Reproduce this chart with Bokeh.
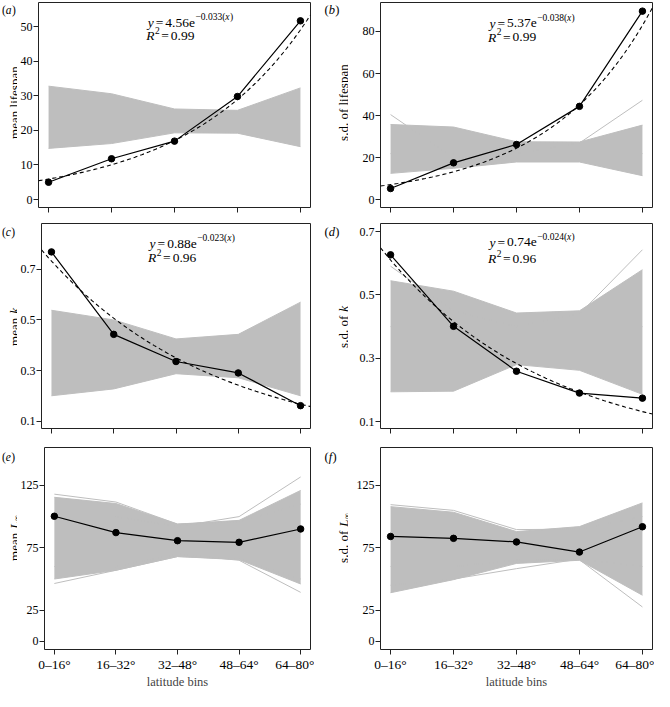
import math
import numpy as np
from bokeh.plotting import figure
from bokeh.layouts import column, row
from bokeh.models import Range1d, FixedTicker, Label
from bokeh.core.properties import value
from bokeh.embed import file_html
from bokeh.resources import INLINE

# ------------------------------------------------------------------ data
bins = ["0–16°", "16–32°", "32–48°", "48–64°", "64–80°"]
bin_pos = [1, 2, 3, 4, 5]
lat_mid = [8, 24, 40, 56, 72]

mean_lifespan = [5.0, 11.8, 16.9, 29.8, 51.7]
sd_lifespan = [5.4, 17.6, 26.3, 44.4, 89.6]
mean_k = [0.768, 0.443, 0.336, 0.291, 0.162]
sd_k = [0.627, 0.401, 0.259, 0.190, 0.174]
mean_linf = [100.3, 87.2, 80.7, 79.4, 90.1]
sd_linf = [84.1, 82.6, 79.7, 71.6, 91.9]

# null-model (randomised) lines: envelope of the dense grey bundle + stray lines
null_hi_a = [32.8, 30.6, 26.2, 25.8, 32.3]
null_lo_a = [14.8, 16.2, 19.3, 19.2, 15.3]
null_extra_a = []
null_hi_b = [35.8, 34.6, 27.6, 27.5, 35.5]
null_lo_b = [12.6, 15.0, 18.0, 18.0, 11.5]
null_extra_b = [[40.5, 20.0, 22.0, 22.0, 22.0], [22.0, 22.0, 22.0, 27.0, 47.3]]
null_hi_c = [0.538, 0.500, 0.425, 0.443, 0.570]
null_lo_c = [0.201, 0.228, 0.288, 0.272, 0.201]
null_extra_c = []
null_hi_d = [0.545, 0.512, 0.443, 0.450, 0.580]
null_lo_d = [0.194, 0.196, 0.280, 0.262, 0.186]
null_extra_d = [[0.591, 0.45, 0.40, 0.40, 0.40], [0.40, 0.40, 0.40, 0.44, 0.643]]
null_hi_e = [115.5, 110.5, 94.0, 97.0, 121.0]
null_lo_e = [50.0, 57.0, 68.0, 65.5, 46.0]
null_extra_e = [[118.0, 111.7, 94.0, 96.0, 110.0], [100.0, 100.0, 92.0, 100.0, 131.8],
                [46.4, 57.0, 68.0, 66.0, 50.0], [60.0, 60.0, 70.0, 65.0, 39.3]]
null_hi_f = [108.0, 103.5, 88.0, 92.0, 111.0]
null_lo_f = [39.0, 49.5, 62.5, 65.0, 37.0]
null_extra_f = [[109.6, 105.0, 89.6, 90.0, 100.0], [45.0, 50.0, 58.3, 66.0, 60.0],
                [60.0, 60.0, 65.0, 65.4, 27.6]]

# exponential fits (panels a-d), as printed
fit_amp = [4.56, 5.37, 0.88, 0.74]
fit_rate = [0.033, 0.038, -0.023, -0.024]
fit_amp_text = ["4.56e", "5.37e", "0.88e", "0.74e"]
fit_exp_text = ["−0.033(", "−0.038(", "−0.023(", "−0.024("]
fit_r2_text = ["0.99", "0.99", "0.96", "0.96"]

y_ticks_a = [0, 10, 20, 30, 40, 50]
y_ticks_b = [0, 20, 40, 60, 80]
y_ticks_k = [0.1, 0.3, 0.5, 0.7]
y_ticks_l = [0, 25, 75, 125]

# ------------------------------------------------------------------ style
FONT = "Liberation Serif"
GRAY = "#BEBEBE"
X_LO, X_HI = 0.84, 5.16

# layout (pixels): strips hold y-labels and panel letters
STRIP_L, STRIP_R = 17, 34
COLS = [(21, 272, 4), (32, 272, 2)]               # left border, frame, right border
ROWS = [(2, 205, 7), (9, 205, 7), (12, 205, 39)]  # top border, frame, bottom border

EM_REG = {'.': 0.25, ' ': 0.25, '=': 0.564, '−': 0.564, '(': 0.333, ')': 0.333,
          'e': 0.444, 'm': 0.778, 'a': 0.444, 'n': 0.5, 's': 0.389, 'd': 0.5, 'o': 0.5,
          'f': 0.333, 'l': 0.278, 'i': 0.278, 'p': 0.5, 'b': 0.5, 'c': 0.444,
          '∞': 0.713, 'R': 0.667, 'L': 0.611}
EM_IT = {'y': 0.444, 'x': 0.444, 'R': 0.611, 'k': 0.444, 'L': 0.556, 'a': 0.5,
         'b': 0.5, 'c': 0.444, 'd': 0.5, 'e': 0.444, 'f': 0.278}


def tw(s, size, italic):
    tab = EM_IT if italic else EM_REG
    return sum(tab.get(ch, EM_REG.get(ch, 0.5)) for ch in s) * size


def rich_label(p, x, y, pieces, x_off=0.0, y_off=0.0, vertical=False, center=False):
    """Rich text made of Label annotations placed piece by piece."""
    total = sum(g + tw(t, s, it) for (t, s, it, r, g) in pieces)
    cur = -total / 2 if center else 0.0
    for (txt, size, italic, rise, gap) in pieces:
        cur += gap
        kw = dict(x=x, y=y, text=txt, text_font=FONT, text_font_size=f"{size}px",
                  text_font_style="italic" if italic else "normal",
                  text_color="black", text_baseline="alphabetic", text_align="left")
        if vertical:
            lab = Label(x_offset=x_off - rise, y_offset=y_off + cur, angle=math.pi / 2, **kw)
        else:
            lab = Label(x_offset=x_off + cur, y_offset=y_off + rise, **kw)
        p.add_layout(lab)
        cur += tw(txt, size, italic)


def rich_glyph(p, x, y, pieces):
    cur = 0.0
    for (txt, size, italic, rise, gap) in pieces:
        cur += gap
        p.text(x=[x + cur], y=[y + rise], text=[txt],
               text_font=value(FONT), text_font_size=value(f"{size}px"),
               text_font_style=value("italic" if italic else "normal"),
               text_color="black", text_baseline=value("alphabetic"),
               text_align=value("left"))
        cur += tw(txt, size, italic)


def strip(col, rowi, ylab_pieces, letter):
    W = STRIP_L if col == 0 else STRIP_R
    bt, fh, bb = ROWS[rowi]
    H = bt + fh + bb
    s = figure(width=W, height=H, x_range=Range1d(0, W), y_range=Range1d(0, H),
               x_axis_type=None, y_axis_type=None, output_backend="svg",
               toolbar_location=None, tools="", min_border=0)
    s.outline_line_color = None
    s.xgrid.visible = False
    s.ygrid.visible = False
    base_x = 13.5 if col == 0 else 29
    rich_label(s, base_x, bb + fh / 2, ylab_pieces, vertical=True, center=True)
    let_x = 1.5 if col == 0 else 10
    let_y = H - bt - (6 if rowi == 0 else 0)
    size = 11.5 if col == 0 else 12.5
    rich_glyph(s, let_x, let_y, [("(", size, False, 0, 0), (letter, size, True, 0, 0),
                                 (")", size, False, 0, 0.4)])
    return s


def panel(col, rowi, y_lo, y_hi, y_ticks, obs, hi, lo, extras, fit=None):
    bl, fw, br = COLS[col]
    bt, fh, bb = ROWS[rowi]
    p = figure(width=bl + fw + br, height=bt + fh + bb,
               x_range=Range1d(X_LO, X_HI), y_range=Range1d(y_lo, y_hi),
               output_backend="svg", toolbar_location=None, tools="",
               min_border_left=bl, min_border_right=br,
               min_border_top=bt, min_border_bottom=bb)
    p.outline_line_color = "#222222"
    p.outline_line_width = 1
    p.xgrid.visible = False
    p.ygrid.visible = False
    p.background_fill_color = "white"
    p.border_fill_color = "white"

    for ax in (p.xaxis, p.yaxis):
        ax.axis_line_color = None
        ax.major_tick_line_color = "#222222"
        ax.major_tick_out = 5
        ax.major_tick_in = 0
        ax.minor_tick_line_color = None
        ax.major_label_text_font = FONT
        ax.major_label_text_color = "black"

    p.xaxis.ticker = FixedTicker(ticks=bin_pos)
    if rowi < 2:
        p.xaxis.major_label_overrides = {b: "" for b in bin_pos}
        p.xaxis.major_label_text_font_size = "0px"
        p.xaxis.major_label_standoff = 0
    else:
        p.xaxis.major_label_overrides = {b: lab for b, lab in zip(bin_pos, bins)}
        p.xaxis.major_label_text_font_size = "13.5px"
        p.xaxis.major_label_standoff = 2
        p.xaxis.axis_label = "latitude bins"
        p.xaxis.axis_label_text_font = FONT
        p.xaxis.axis_label_text_font_size = "12.5px"
        p.xaxis.axis_label_text_font_style = "normal"
        p.xaxis.axis_label_standoff = 0

    p.yaxis.ticker = FixedTicker(ticks=y_ticks)
    p.yaxis.major_label_text_font_size = "12px"
    p.yaxis.major_label_standoff = 1
    p.yaxis.major_label_orientation = "horizontal"

    p.varea(x=bin_pos, y1=lo, y2=hi, fill_color=GRAY, fill_alpha=1.0)
    p.multi_line(xs=[bin_pos, bin_pos], ys=[hi, lo], line_color=GRAY, line_width=1)
    if extras:
        p.multi_line(xs=[bin_pos] * len(extras), ys=extras, line_color=GRAY, line_width=1)

    if fit is not None:
        amp, rate = fit
        xs = np.linspace(X_LO, X_HI, 80)
        lat = lat_mid[0] + (xs - bin_pos[0]) * (lat_mid[1] - lat_mid[0])
        p.line(xs, amp * np.exp(rate * lat), line_color="black", line_width=1.1,
               line_dash="4 3")

    p.line(bin_pos, obs, line_color="black", line_width=1.2)
    p.scatter(bin_pos, obs, size=6.5, fill_color="black", line_color="black")
    return p


def add_eq(p, i, x, y1, y2):
    rich_label(p, x, y1, [("y", 13.5, True, 0, 0), ("=", 13.5, False, 0, 2.0),
                          (fit_amp_text[i], 13.5, False, 0, 2.0),
                          (fit_exp_text[i], 9.5, False, 5.5, 0.5), ("x", 9.5, True, 5.5, 0),
                          (")", 9.5, False, 5.5, 0.3)])
    rich_label(p, x, y2, [("R", 13.5, True, 0, 0), ("2", 9.5, False, 5.5, 0.5),
                          ("=", 13.5, False, 0, 1.5), (fit_r2_text[i], 13.5, False, 0, 2.0)],
               x_off=-1.5)


pa = panel(0, 0, -2.3, 57.0, y_ticks_a, mean_lifespan, null_hi_a, null_lo_a, null_extra_a,
           fit=(fit_amp[0], fit_rate[0]))
add_eq(pa, 0, 2.575, 51.2, 47.4)
pb = panel(1, 0, -3.6, 93.7, y_ticks_b, sd_lifespan, null_hi_b, null_lo_b, null_extra_b,
           fit=(fit_amp[1], fit_rate[1]))
add_eq(pb, 1, 2.57, 83.9, 77.3)
pc = panel(0, 1, 0.072, 0.88, y_ticks_k, mean_k, null_hi_c, null_lo_c, null_extra_c,
           fit=(fit_amp[2], fit_rate[2]))
add_eq(pc, 2, 2.575, 0.801, 0.7455)
pd_ = panel(1, 1, 0.078, 0.726, y_ticks_k, sd_k, null_hi_d, null_lo_d, null_extra_d,
            fit=(fit_amp[3], fit_rate[3]))
add_eq(pd_, 3, 2.57, 0.667, 0.614)
pe = panel(0, 2, -6.5, 155.4, y_ticks_l, mean_linf, null_hi_e, null_lo_e, null_extra_e)
pf = panel(1, 2, -6.5, 155.4, y_ticks_l, sd_linf, null_hi_f, null_lo_f, null_extra_f)

sa = strip(0, 0, [("mean lifespan", 13, False, 0, 0)], "a")
sb = strip(1, 0, [("s.d. of lifespan", 13, False, 0, 0)], "b")
sc = strip(0, 1, [("mean", 13, False, 0, 0), ("k", 13, True, 0, 4.0)], "c")
sd = strip(1, 1, [("s.d. of", 13, False, 0, 0), ("k", 13, True, 0, 4.0)], "d")
se = strip(0, 2, [("mean", 13, False, 0, 0), ("L", 13, True, 0, 4.0),
                  ("∞", 9, False, -3, 0.3)], "e")
sf = strip(1, 2, [("s.d. of", 13, False, 0, 0), ("L", 13, True, 0, 4.0),
                  ("∞", 9, False, -3, 0.3)], "f")

layout = column(row(sa, pa, sb, pb), row(sc, pc, sd, pd_), row(se, pe, sf, pf))

with open("out.html", "w") as fh:
    fh.write(file_html(layout, INLINE))
